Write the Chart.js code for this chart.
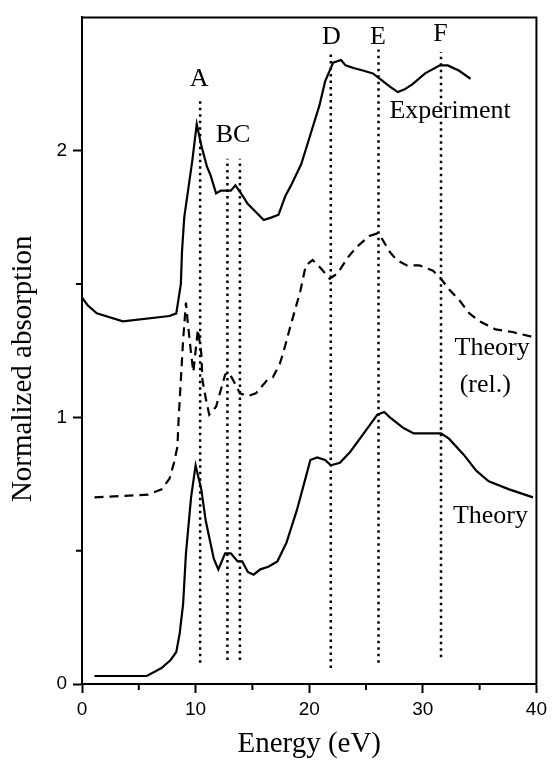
<!DOCTYPE html>
<html>
<head>
<meta charset="utf-8">
<script src="https://cdn.jsdelivr.net/npm/chart.js@4/dist/chart.umd.min.js"></script>
<style>
  html, body { margin: 0; padding: 0; background: #fff; }
  #wrap { width: 552px; height: 767px; }
</style>
</head>
<body>
<div id="wrap"><canvas id="c" width="552" height="767"></canvas></div>
<script>
// ---- Experiment (solid, top) ----
const expE = [0,0.5,1.3,3.6,7.7,8.3,8.7,8.8,9.0,9.7,10.1,10.5,11.0,11.3,11.8,12.2,12.7,13.1,13.5,14.0,14.6,15.3,16.0,16.7,17.3,17.9,18.4,19.3,20.1,20.9,21.4,21.9,22.1,22.8,23.2,23.9,24.8,25.6,26.2,27.1,27.8,28.4,29.1,30.2,31.5,32.2,33.2,34.2];
const expY = [1.45,1.42,1.39,1.36,1.38,1.39,1.50,1.62,1.75,1.96,2.10,2.02,1.94,1.91,1.84,1.85,1.85,1.85,1.87,1.84,1.80,1.77,1.74,1.75,1.76,1.83,1.87,1.95,2.06,2.17,2.26,2.31,2.33,2.34,2.32,2.31,2.30,2.29,2.27,2.24,2.22,2.23,2.25,2.29,2.32,2.32,2.30,2.27];

// ---- Theory (rel.) (dashed, middle) ----
const relE = [1.1,5.8,7.0,7.7,8.1,8.4,8.5,8.7,8.9,9.15,9.3,9.6,9.8,10.2,10.5,10.6,10.9,11.2,11.8,12.2,12.6,12.9,13.3,13.9,14.6,15.3,16.3,16.8,17.4,17.7,18.4,19.2,19.7,20.3,21.0,21.8,22.5,23.4,24.2,25.3,26.0,26.4,27.1,27.7,28.6,29.7,30.9,31.6,32.3,33.2,34.1,35.0,36.4,37.9,39.8];
const relY = [0.70,0.71,0.73,0.77,0.83,0.89,0.99,1.14,1.29,1.43,1.36,1.24,1.17,1.33,1.24,1.14,1.07,1.01,1.04,1.10,1.16,1.17,1.14,1.09,1.08,1.09,1.14,1.15,1.20,1.24,1.35,1.47,1.57,1.59,1.56,1.52,1.54,1.60,1.64,1.68,1.69,1.67,1.62,1.59,1.57,1.57,1.55,1.52,1.48,1.44,1.39,1.36,1.33,1.32,1.30];

// ---- Theory (solid, bottom) ----
const thE = [1.1,5.7,7.0,7.8,8.3,8.6,8.9,9.15,9.6,10.0,10.5,10.9,11.6,12.0,12.6,13.1,13.7,14.1,14.6,15.1,15.7,16.4,17.2,18.0,18.9,19.6,20.1,20.7,21.4,21.9,22.7,23.6,24.8,26.0,26.6,27.1,28.3,29.2,30.6,31.6,32.3,33.6,34.7,35.8,37.6,39.7];
const thY = [0.03,0.03,0.06,0.09,0.12,0.19,0.30,0.49,0.70,0.82,0.73,0.61,0.47,0.43,0.49,0.49,0.46,0.46,0.42,0.41,0.43,0.44,0.46,0.53,0.65,0.76,0.84,0.85,0.84,0.82,0.83,0.87,0.94,1.01,1.02,1.00,0.96,0.94,0.94,0.94,0.92,0.86,0.80,0.76,0.73,0.70];

// ---- Dotted feature markers A, B, C, D, E, F ----
const markerE      = [10.4, 12.8, 13.9, 21.9, 26.1, 31.6];
const markerTop    = [2.20, 1.97, 1.97, 2.37, 2.38, 2.37];
const markerBottom = [0.08, 0.09, 0.09, 0.06, 0.08, 0.10];

// ---- Text labels inside the plot ----
const labelText = ['A','BC','D','E','F','Experiment','Theory','(rel.)','Theory'];
const labelE    = [10.3, 13.3, 21.96, 26.06, 31.55, 32.4, 36.1, 35.5, 35.95];
const labelY    = [2.27, 2.06, 2.425, 2.425, 2.436, 2.15, 1.26, 1.12, 0.63];

// ---- Axis ticks ----
const xMajorTicks = [0, 10, 20, 30, 40];
const xMinorTicks = [5, 15, 25, 35];
const yMajorTicks = [0, 1, 2];
const yMinorTicks = [0.5, 1.5];

const zip = (xs, ys) => xs.map((x, i) => ({x: x, y: ys[i]}));

const datasets = [
  { data: zip(expE, expY), borderColor: '#000', borderWidth: 2.2, showLine: true, pointRadius: 0, tension: 0, fill: false },
  { data: zip(relE, relY), borderColor: '#000', borderWidth: 2.2, borderDash: [9, 6], showLine: true, pointRadius: 0, tension: 0, fill: false },
  { data: zip(thE, thY), borderColor: '#000', borderWidth: 2.2, showLine: true, pointRadius: 0, tension: 0, fill: false }
];
markerE.forEach((e, i) => {
  datasets.push({
    data: [{x: e, y: markerBottom[i]}, {x: e, y: markerTop[i]}],
    borderColor: '#000', borderWidth: 2.5, borderDash: [2.5, 4], showLine: true, pointRadius: 0, fill: false
  });
});

const SERIF = '"Liberation Serif", "Times New Roman", serif';
const SANS = '"Liberation Sans", Arial, sans-serif';

const framePlugin = {
  id: 'frame',
  afterDraw(chart) {
    const {ctx, chartArea: a, scales} = chart;
    ctx.save();
    ctx.strokeStyle = '#000';
    ctx.lineWidth = 2;
    // top and right frame lines
    ctx.beginPath();
    ctx.moveTo(a.left, a.top);
    ctx.lineTo(a.right, a.top);
    ctx.lineTo(a.right, a.bottom);
    ctx.stroke();
    // minor ticks
    ctx.beginPath();
    xMinorTicks.forEach(v => {
      const px = scales.x.getPixelForValue(v);
      ctx.moveTo(px, a.bottom);
      ctx.lineTo(px, a.bottom + 6);
    });
    yMinorTicks.forEach(v => {
      const py = scales.y.getPixelForValue(v);
      ctx.moveTo(a.left - 6, py);
      ctx.lineTo(a.left, py);
    });
    ctx.stroke();
    // text labels
    ctx.fillStyle = '#000';
    ctx.font = '26px ' + SERIF;
    ctx.textAlign = 'center';
    ctx.textBaseline = 'middle';
    labelText.forEach((t, i) => {
      ctx.fillText(t, scales.x.getPixelForValue(labelE[i]), scales.y.getPixelForValue(labelY[i]));
    });
    ctx.restore();
  }
};

new Chart(document.getElementById('c'), {
  type: 'scatter',
  data: { datasets: datasets },
  options: {
    responsive: false,
    animation: false,
    layout: { padding: { top: 15, right: 11, left: 0, bottom: 0 } },
    plugins: { legend: { display: false }, tooltip: { enabled: false } },
    scales: {
      x: {
        type: 'linear', min: 0, max: 40, position: 'bottom',
        afterFit: s => { s.height = 83; },
        afterBuildTicks: s => { s.ticks = xMajorTicks.map(v => ({value: v})); },
        ticks: { color: '#000', font: { family: SANS, size: 19 }, padding: 5, maxRotation: 0, autoSkip: false },
        grid: { drawOnChartArea: false, drawTicks: true, tickLength: 9, tickWidth: 2, tickColor: '#000' },
        border: { color: '#000', width: 2 },
        title: { display: true, text: 'Energy (eV)', color: '#000', font: { family: SERIF, size: 29 }, padding: { top: 0, bottom: 5 } }
      },
      y: {
        type: 'linear', min: 0, max: 2.5,
        afterFit: s => { s.width = 82; },
        afterBuildTicks: s => { s.ticks = yMajorTicks.map(v => ({value: v})); },
        ticks: { color: '#000', font: { family: SANS, size: 19 }, padding: 6, autoSkip: false },
        grid: { drawOnChartArea: false, drawTicks: true, tickLength: 9, tickWidth: 2, tickColor: '#000' },
        border: { color: '#000', width: 2 },
        title: { display: true, text: 'Normalized absorption     ', color: '#000', font: { family: SERIF, size: 29 }, padding: { top: 6, bottom: 0 } }
      }
    }
  },
  plugins: [framePlugin]
});
</script>
</body>
</html>
